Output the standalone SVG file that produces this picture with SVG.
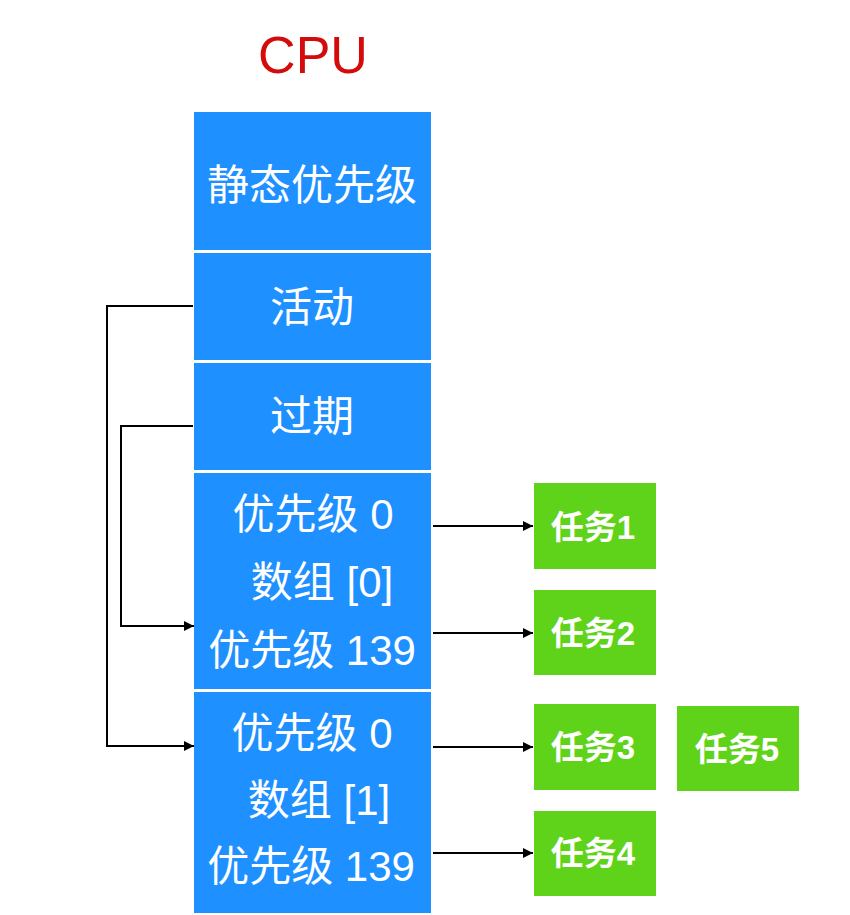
<svg xmlns="http://www.w3.org/2000/svg" width="850" height="915" viewBox="0 0 850 915">
<defs>
<marker id="ah" viewBox="0 0 10 10" refX="10" refY="5" markerWidth="10" markerHeight="10" markerUnits="userSpaceOnUse" orient="auto"><path d="M0,0 L10,5 L0,10 z" fill="#000"/></marker>
<style>
.blue{fill:#1e90ff}
.green{fill:#5fd31a}
.bt{fill:#fff;font-family:"Helvetica Neue","Liberation Sans","Noto Sans CJK SC",sans-serif;font-size:42px;text-anchor:middle;dominant-baseline:central}
.gt{fill:#fff;font-family:"Liberation Sans","Noto Sans CJK SC",sans-serif;font-size:33px;font-weight:bold;text-anchor:middle;dominant-baseline:central}
.ln{fill:none;stroke:#000;stroke-width:2}
</style>
</defs>
<rect width="850" height="915" fill="#fff"/>
<text x="313" y="73" fill="#d50a0a" font-family="Liberation Sans, sans-serif" font-size="52" text-anchor="middle">CPU</text>
<g id="static"><rect class="blue" x="194" y="112" width="237" height="138"/><text class="bt" x="312" y="185">静态优先级</text></g>
<g id="active"><rect class="blue" x="194" y="253" width="237" height="107"/><text class="bt" x="312" y="307">活动</text></g>
<g id="expired"><rect class="blue" x="194" y="363" width="237" height="107"/><text class="bt" x="312" y="416">过期</text></g>
<g id="array0"><rect class="blue" x="194" y="473" width="237" height="216"/>
<text class="bt" x="313" y="514">优先级 0</text>
<text class="bt" x="322" y="582">数组 [0]</text>
<text class="bt" x="312" y="650">优先级 139</text></g>
<g id="array1"><rect class="blue" x="194" y="692" width="237" height="221"/>
<text class="bt" x="312" y="733">优先级 0</text>
<text class="bt" x="319" y="800">数组 [1]</text>
<text class="bt" x="311" y="866">优先级 139</text></g>
<g id="task1"><rect class="green" x="534" y="483" width="122" height="86"/><text class="gt" x="593" y="527">任务1</text></g>
<g id="task2"><rect class="green" x="534" y="590" width="122" height="85"/><text class="gt" x="593" y="633">任务2</text></g>
<g id="task3"><rect class="green" x="534" y="704" width="122" height="86"/><text class="gt" x="593" y="747">任务3</text></g>
<g id="task4"><rect class="green" x="534" y="811" width="122" height="85"/><text class="gt" x="593" y="853">任务4</text></g>
<g id="task5"><rect class="green" x="677" y="706" width="122" height="85"/><text class="gt" x="737" y="749">任务5</text></g>
<g id="connectors">
<polyline class="ln" points="193,306 107,306 107,746 194,746" marker-end="url(#ah)"/>
<polyline class="ln" points="193,426 121,426 121,626 194,626" marker-end="url(#ah)"/>
<line class="ln" x1="433" y1="526" x2="533" y2="526" marker-end="url(#ah)"/>
<line class="ln" x1="433" y1="633" x2="533" y2="633" marker-end="url(#ah)"/>
<line class="ln" x1="433" y1="747" x2="533" y2="747" marker-end="url(#ah)"/>
<line class="ln" x1="433" y1="853" x2="533" y2="853" marker-end="url(#ah)"/>
</g>
</svg>
